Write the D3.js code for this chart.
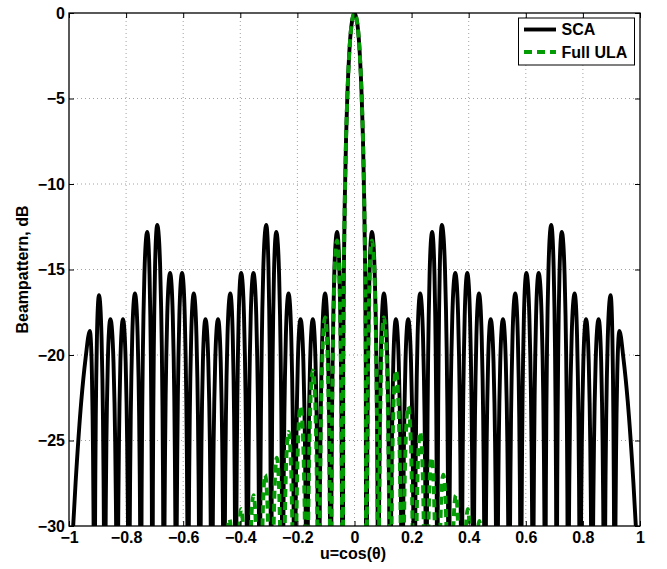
<!DOCTYPE html>
<html>
<head>
<meta charset="utf-8">
<script src="https://cdn.jsdelivr.net/npm/d3@7"></script>
<style>
body{margin:0;background:#fff}
text{font-family:"Liberation Sans",Arial,sans-serif;font-weight:bold}
</style>
</head>
<body>
<div id="chart"></div>
<script>
//* data

// SCA lobe peaks (u, dB)
var scaPeakU = [-0.927,-0.895,-0.855,-0.811,-0.769,-0.726,-0.691,-0.646,-0.604,-0.563,-0.522,-0.478,-0.435,-0.397,-0.354,-0.309,-0.274,-0.231,-0.189,-0.146,-0.103,-0.061,
    0,
    0.061,0.103,0.145,0.188,0.230,0.272,0.306,0.353,0.395,0.436,0.477,0.520,0.563,0.602,0.645,0.689,0.726,0.771,0.811,0.855,0.897,0.928]
var scaPeakDb = [-18.6,-16.5,-17.9,-17.9,-16.4,-12.8,-12.4,-15.2,-15.2,-16.4,-17.9,-17.9,-16.4,-15.2,-15.2,-12.4,-12.8,-16.4,-17.9,-17.9,-16.4,-12.8,
    0,
    -12.8,-16.4,-17.9,-17.9,-16.4,-12.8,-12.4,-15.2,-15.2,-16.4,-17.9,-17.9,-16.4,-15.2,-15.2,-12.4,-12.8,-16.4,-17.9,-17.9,-16.5,-18.6]
// nulls, one more than the peaks (outer ones are the edges)
var scaNullU = [-0.99,-0.911,-0.875,-0.831,-0.790,-0.748,-0.708,-0.668,-0.625,-0.583,-0.542,-0.500,-0.457,-0.416,-0.375,-0.332,-0.292,-0.252,-0.210,-0.167,-0.125,-0.083,-0.042,
    0.042,0.083,0.125,0.167,0.210,0.252,0.290,0.330,0.375,0.416,0.457,0.499,0.542,0.583,0.625,0.668,0.708,0.748,0.790,0.832,0.875,0.911,0.99]
// the two outer flanks are slower slopes
var scaLeftEdge = [[-0.992,-32],[-0.977,-27.5],[-0.957,-22.7],[-0.942,-20.2]]
var scaRightEdge = [[0.942,-20.2],[0.957,-22.7],[0.977,-27.5],[0.992,-32]]

// Full ULA lobe peaks
var ulaPeakU = [-0.438,-0.397,-0.354,-0.313,-0.272,-0.231,-0.189,-0.146,-0.103,-0.061,0,0.061,0.103,0.145,0.188,0.230,0.270,0.311,0.355,0.397,0.437]
var ulaPeakDb = [-29.6,-29.0,-28.2,-27.0,-26.0,-24.5,-23.0,-20.9,-17.8,-13.3,0,-13.3,-17.8,-20.9,-23.0,-24.5,-26.0,-27.0,-28.2,-29.0,-29.7]
var ulaNullU = [-0.46,-0.416,-0.375,-0.332,-0.292,-0.252,-0.210,-0.167,-0.125,-0.083,-0.042,0.042,0.083,0.125,0.167,0.210,0.250,0.290,0.333,0.375,0.416,0.46]

// shape of one lobe, fraction of the way to the null vs drop from the peak
var lobeFrac = [0,0.25,0.45,0.6,0.7,0.8,0.88,0.94,1]
var lobeDrop = [0,-0.7,-2.5,-4.9,-7.2,-10.6,-14.6,-20.5,-60]

var xTicks = [-1,-0.8,-0.6,-0.4,-0.2,0,0.2,0.4,0.6,0.8,1]
var yTicks = [-30,-25,-20,-15,-10,-5,0]
var seriesNames = ["SCA","Full ULA"]
var seriesColors = ["#000000","#049c04"]

var W = 667, H = 569
var x = d3.scaleLinear().domain([-1,1]).range([69,640])
var y = d3.scaleLinear().domain([-30,0]).range([526,13])

function buildLobes(pu, pdb, nu){
    var pts = []
    pu.forEach(function(p,i){
        var l = nu[i], r = nu[i+1]
        for (var k = lobeFrac.length-1; k > 0; k--) { //? left flank
            if (i > 0 && k == lobeFrac.length-1) continue //null already pushed
            pts.push([p - lobeFrac[k]*(p-l), pdb[i] + lobeDrop[k]])
        }
        pts.push([p, pdb[i]])
        for (var k = 1; k < lobeFrac.length; k++) { //? right flank
            pts.push([p + lobeFrac[k]*(r-p), pdb[i] + lobeDrop[k]])
        }
    })
    return pts
}

var scaPts = buildLobes(scaPeakU, scaPeakDb, scaNullU).filter(function(d){
    return d[0] >= scaPeakU[0] && d[0] <= scaPeakU[scaPeakU.length-1]
})
scaPts = scaLeftEdge.concat(scaPts).concat(scaRightEdge)
var ulaPts = buildLobes(ulaPeakU, ulaPeakDb, ulaNullU)

var svg = d3.select("#chart").append("svg").attr("width",W).attr("height",H)

svg.append("defs").append("clipPath").attr("id","plotclip")
    .append("rect").attr("x",69).attr("y",13).attr("width",571).attr("height",513)

//* grid
var grid = svg.append("g").attr("stroke","#8c8c8c").attr("stroke-width",0.8).attr("stroke-dasharray","1,3")
grid.selectAll(".gx").data(xTicks.slice(1,-1)).enter().append("line")
    .attr("x1",d=>x(d)).attr("x2",d=>x(d)).attr("y1",13).attr("y2",526)
grid.selectAll(".gy").data(yTicks.slice(1,-1)).enter().append("line")
    .attr("y1",d=>y(d)).attr("y2",d=>y(d)).attr("x1",69).attr("x2",640)

//* curves
var line = d3.line().x(d=>x(d[0])).y(d=>y(d[1])).curve(d3.curveMonotoneX)
var plot = svg.append("g").attr("clip-path","url(#plotclip)")
plot.append("path").datum(scaPts).attr("d",line)
    .attr("fill","none").attr("stroke",seriesColors[0]).attr("stroke-width",3.9).attr("stroke-linejoin","round")
plot.append("path").datum(ulaPts).attr("d",line)
    .attr("fill","none").attr("stroke",seriesColors[1]).attr("stroke-width",3.9).attr("stroke-dasharray","8,5")

//* axes
function styleAxis(g){
    g.attr("font-size",16).attr("font-family","'Liberation Sans',Arial,sans-serif").attr("font-weight","bold")
    g.select(".domain").remove()
    g.selectAll(".tick line").attr("stroke","#000")
}
svg.append("g").attr("transform","translate(0,526)")
    .call(d3.axisBottom(x).tickValues(xTicks).tickSize(-5).tickPadding(6).tickFormat(d3.format("")))
    .call(styleAxis)
svg.append("g").attr("transform","translate(0,13)")
    .call(d3.axisTop(x).tickValues(xTicks).tickSize(-5).tickFormat(""))
    .call(styleAxis)
svg.append("g").attr("transform","translate(69,0)")
    .call(d3.axisLeft(y).tickValues(yTicks).tickSize(-5).tickPadding(4).tickFormat(d3.format("")))
    .call(styleAxis)
svg.append("g").attr("transform","translate(640,0)")
    .call(d3.axisRight(y).tickValues(yTicks).tickSize(-5).tickFormat(""))
    .call(styleAxis)

svg.append("rect").attr("x",69).attr("y",13).attr("width",571).attr("height",513)
    .attr("fill","none").attr("stroke","#000").attr("stroke-width",1.3)

//* labels
svg.append("text").attr("x",353).attr("y",559).attr("text-anchor","middle").attr("font-size",16).text("u=cos(θ)")
svg.append("text").attr("transform","translate(28,269.5) rotate(-90)").attr("text-anchor","middle")
    .attr("font-size",16).text("Beampattern, dB")

//* legend
var leg = svg.append("g")
leg.append("rect").attr("x",518.5).attr("y",18).attr("width",116).attr("height",47)
    .attr("fill","#fff").attr("stroke","#000").attr("stroke-width",1)
var legY = [29.5,52]
seriesNames.forEach(function(n,i){
    leg.append("line").attr("x1",524).attr("x2",556).attr("y1",legY[i]).attr("y2",legY[i])
        .attr("stroke",seriesColors[i]).attr("stroke-width",3.9)
        .attr("stroke-dasharray",i==0?null:"8,5")
    leg.append("text").attr("x",561.5).attr("y",legY[i]+5.8).attr("font-size",16).text(n)
})
</script>
</body>
</html>
